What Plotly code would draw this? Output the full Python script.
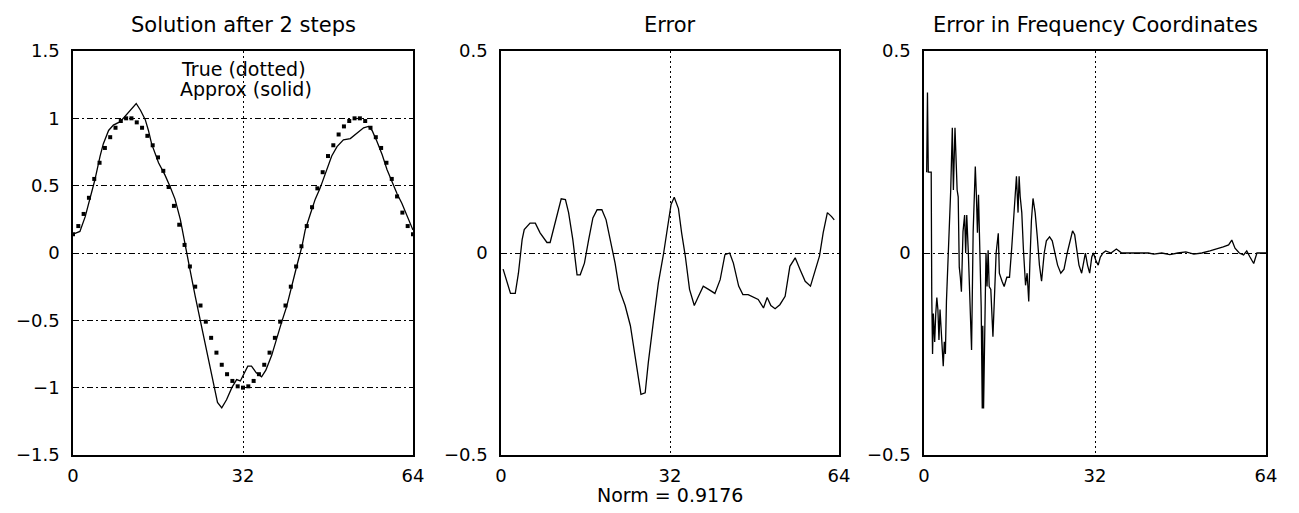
import plotly.graph_objects as go

# ---------------- data ----------------
true_x = list(range(65))
true_y = [0.14, 0.20, 0.29, 0.41, 0.55, 0.67, 0.78, 0.86, 0.93, 0.98,
          1.00, 1.00, 0.97, 0.93, 0.87, 0.80, 0.71, 0.61, 0.49, 0.35,
          0.21, 0.06, -0.10, -0.25, -0.39, -0.51, -0.63, -0.74, -0.83, -0.90,
          -0.95, -0.99, -1.00, -0.99, -0.95, -0.90, -0.83, -0.74, -0.63, -0.51,
          -0.39, -0.25, -0.10, 0.05, 0.20, 0.34, 0.48, 0.60, 0.72, 0.80,
          0.88, 0.94, 0.98, 1.00, 1.00, 0.98, 0.93, 0.86, 0.78, 0.67,
          0.55, 0.42, 0.30, 0.20, 0.14]

approx_x = [0.0, 1.3, 2.3, 3.2, 4.1, 5.1, 5.7, 6.7, 7.6, 8.9,
            10.4, 11.9, 12.7, 13.6, 14.2, 14.8, 16.1, 17.3, 18.3, 19.2,
            20.2, 21.1, 22.0, 23.0, 23.9, 24.9, 25.8, 26.6, 27.2, 28.0,
            28.9, 29.9, 30.8, 31.5, 32.3, 32.9, 33.6, 34.5, 35.5, 36.3,
            37.4, 38.4, 39.3, 40.2, 41.2, 42.1, 43.1, 43.7, 44.6, 45.6,
            46.5, 47.8, 48.7, 49.7, 50.9, 52.2, 53.4, 54.7, 55.6, 56.3,
            57.2, 58.2, 59.1, 60.0, 61.0, 61.9, 62.9, 64.0]
approx_y = [0.14, 0.16, 0.27, 0.40, 0.54, 0.72, 0.81, 0.91, 0.95, 0.975,
            1.04, 1.11, 1.06, 0.99, 0.91, 0.81, 0.67, 0.58, 0.49, 0.40,
            0.25, 0.05, -0.12, -0.32, -0.49, -0.67, -0.84, -1.01, -1.11, -1.15,
            -1.09, -1.00, -0.94, -0.95, -0.88, -0.84, -0.84, -0.89, -0.92, -0.87,
            -0.76, -0.62, -0.51, -0.40, -0.23, -0.10, 0.05, 0.17, 0.28, 0.40,
            0.48, 0.62, 0.72, 0.79, 0.84, 0.85, 0.89, 0.93, 0.94, 0.91,
            0.83, 0.73, 0.62, 0.53, 0.44, 0.37, 0.27, 0.17]

err_x = [0.4, 1.8, 2.7, 3.3, 4.0, 4.4, 5.5, 6.5, 7.4, 8.7,
         9.3, 10.6, 11.4, 12.2, 12.8, 13.6, 14.4, 15.0, 15.8, 16.6,
         17.4, 18.2, 19.1, 19.9, 20.7, 21.6, 22.4, 23.5, 24.5, 25.2,
         25.9, 26.5, 27.3, 27.9, 28.9, 29.8, 30.8, 31.5, 32.2, 32.8,
         33.6, 34.2, 34.9, 35.7, 36.6, 37.4, 38.3, 39.3, 40.5, 41.5,
         42.4, 43.3, 44.0, 45.0, 45.8, 46.8, 47.8, 48.7, 49.7, 50.4,
         51.1, 51.9, 52.8, 53.8, 54.7, 55.7, 56.6, 57.6, 58.6, 59.5,
         60.3, 61.0, 61.8, 62.6, 63.1]
err_y = [-0.04, -0.10, -0.10, -0.05, 0.033, 0.058, 0.074, 0.074, 0.05, 0.026,
         0.026, 0.09, 0.134, 0.132, 0.10, 0.033, -0.054, -0.054, -0.025, 0.033,
         0.087, 0.107, 0.107, 0.082, 0.033, -0.025, -0.09, -0.13, -0.18, -0.24,
         -0.30, -0.35, -0.346, -0.27, -0.165, -0.074, 0.0, 0.066, 0.12, 0.138,
         0.11, 0.05, -0.008, -0.09, -0.13, -0.107, -0.082, -0.09, -0.10, -0.066,
         -0.004, 0.0, -0.025, -0.082, -0.103, -0.103, -0.11, -0.115, -0.136, -0.11,
         -0.13, -0.138, -0.128, -0.107, -0.033, -0.012, -0.04, -0.07, -0.082, -0.04,
         -0.008, 0.05, 0.10, 0.09, 0.082]

freq_x = [0.5, 0.65, 0.8, 1.35, 1.45, 1.6, 1.75, 2.0, 2.2, 2.4,
          2.6, 2.8, 3.0, 3.4, 3.6, 3.8, 4.0, 4.2, 4.6, 5.0,
          5.3, 5.5, 5.8, 6.2, 6.4, 6.6, 6.8, 7.0, 7.3, 7.6,
          7.8, 8.0, 8.3, 8.6, 8.9, 9.2, 9.6, 9.8, 10.0, 10.2,
          10.4, 10.7, 10.9, 11.0, 11.15, 11.4, 11.6, 11.8, 12.0, 12.2,
          12.5, 12.9, 13.2, 13.5, 13.9, 14.1, 14.6, 15.0, 15.5, 16.0,
          16.4, 16.9, 17.3, 17.6, 17.8, 18.0, 18.3, 18.6, 19.0, 19.3,
          19.6, 19.8, 20.1, 20.4, 20.8, 21.2, 21.6, 22.0, 22.5, 22.9,
          23.5, 24.0, 24.5, 25.0, 25.6, 26.2, 26.8, 27.4, 27.8, 28.2,
          28.6, 29.0, 29.5, 29.8, 30.2, 30.6, 31.0, 31.4, 31.7, 32.2,
          32.6, 33.0, 33.5, 34.0, 35.0, 36.0, 37.0, 42.0, 43.0, 44.5,
          46.0, 47.5, 49.0, 50.5, 52.0, 53.5, 55.0, 56.0, 57.0, 57.6,
          58.2, 59.0, 59.8, 60.4, 61.0, 61.7, 62.3, 63.0, 64.0]
freq_y = [0.20, 0.397, 0.20, 0.20, -0.104, -0.25, -0.15, -0.22, -0.15, -0.11,
          -0.14, -0.215, -0.14, -0.22, -0.28, -0.22, -0.25, -0.12, 0.0, 0.156,
          0.31, 0.156, 0.31, 0.156, 0.139, -0.035, -0.06, -0.096, 0.053, 0.094,
          0.0, 0.094, 0.0, -0.15, -0.24, 0.053, 0.214, 0.144, 0.05, 0.144,
          0.05, -0.133, -0.385, -0.18, -0.385, -0.18, 0.0, -0.083, 0.007, -0.083,
          -0.09, -0.207, -0.08, 0.0, 0.049, -0.05, -0.07, -0.083, -0.06, -0.06,
          0.01, 0.10, 0.19, 0.10, 0.19, 0.14, 0.10, 0.01, -0.08, -0.05,
          -0.12, -0.03, 0.08, 0.135, 0.10, 0.04, -0.03, -0.07, 0.0, 0.03,
          0.04, 0.03, 0.0, -0.03, -0.05, -0.04, 0.0, 0.03, 0.055, 0.045,
          0.0, -0.03, -0.05, -0.03, 0.0, -0.03, -0.05, -0.01, 0.0, -0.02,
          -0.03, -0.01, 0.0, 0.005, 0.0, 0.01, 0.0, 0.0, -0.003, 0.0,
          -0.004, 0.0, 0.003, -0.003, 0.0, 0.005, 0.01, 0.015, 0.02, 0.032,
          0.012, 0.0, -0.005, 0.005, -0.01, -0.026, 0.0, 0.0, 0.0]

x_tick_vals = [0, 32, 64]
x_tick_text = ["0", "32", "64"]
y1_tick_vals = [-1.5, -1, -0.5, 0, 0.5, 1, 1.5]
y1_tick_text = ["\u22121.5", "\u22121", "\u22120.5", "0", "0.5", "1", "1.5"]
y23_tick_vals = [-0.5, 0, 0.5]
y23_tick_text = ["\u22120.5", "0", "0.5"]

titles = ["Solution after 2 steps", "Error", "Error in Frequency Coordinates"]
label_lines = ["True (dotted)", "Approx (solid)"]
norm_text = "Norm = 0.9176"

# ---------------- figure ----------------
W, H = 1299, 513
FONT = "DejaVu Sans"
BLACK = "#000000"

fig = go.Figure()
fig.add_trace(go.Scatter(x=true_x, y=true_y, mode="markers",
                         marker=dict(symbol="square", size=4, color=BLACK, line=dict(width=0)),
                         xaxis="x", yaxis="y"))
fig.add_trace(go.Scatter(x=approx_x, y=approx_y, mode="lines",
                         line=dict(color=BLACK, width=1.3), xaxis="x", yaxis="y"))
fig.add_trace(go.Scatter(x=err_x, y=err_y, mode="lines",
                         line=dict(color=BLACK, width=1.3), xaxis="x2", yaxis="y2"))
fig.add_trace(go.Scatter(x=freq_x, y=freq_y, mode="lines",
                         line=dict(color=BLACK, width=1.3), xaxis="x3", yaxis="y3"))

x_domains = [[73 / W, 413 / W], [501 / W, 839 / W], [924 / W, 1266 / W]]
y_domain = [1 - 455 / H, 1 - 51 / H]


def xaxis(dom, anchor):
    return dict(domain=dom, anchor=anchor, range=[0, 64], tickmode="array",
                tickvals=x_tick_vals, ticktext=x_tick_text, showgrid=True,
                gridcolor=BLACK, gridwidth=1, griddash="2px,3px", zeroline=False,
                showline=True, linecolor=BLACK, linewidth=1.5, mirror=True,
                ticks="", ticklabelstandoff=4, automargin=False,
                tickfont=dict(family=FONT, size=18, color=BLACK), fixedrange=True)


def yaxis(anchor, vals, text, rng):
    return dict(domain=y_domain, anchor=anchor, range=rng, tickmode="array",
                tickvals=vals, ticktext=text, showgrid=True, gridcolor=BLACK,
                gridwidth=1, griddash="6px,3px,2px,3px", zeroline=False,
                showline=True, linecolor=BLACK, linewidth=1.5, mirror=True,
                ticks="", ticklabelstandoff=8, automargin=False,
                tickfont=dict(family=FONT, size=18, color=BLACK), fixedrange=True)


annotations = []
for i, t in enumerate(titles):
    sfx = "" if i == 0 else str(i + 1)
    annotations.append(dict(text=t, xref="x%s domain" % sfx, yref="y%s domain" % sfx,
                            x=0.5, y=1, yanchor="middle", xanchor="center", yshift=26,
                            showarrow=False, font=dict(family=FONT, size=21, color=BLACK)))
annotations.append(dict(text=label_lines[0], xref="x", yref="y", x=32, y=1.366,
                        showarrow=False, font=dict(family=FONT, size=19, color=BLACK)))
annotations.append(dict(text=label_lines[1], xref="x", yref="y", x=32.6, y=1.217,
                        showarrow=False, font=dict(family=FONT, size=19, color=BLACK)))
annotations.append(dict(text=norm_text, xref="x2 domain", yref="y2 domain", x=0.5, y=0,
                        yanchor="middle", yshift=-40, showarrow=False,
                        font=dict(family=FONT, size=19, color=BLACK)))

fig.update_layout(
    template="none",
    width=W, height=H, autosize=False,
    margin=dict(l=0, r=0, t=0, b=0, pad=0),
    paper_bgcolor="white", plot_bgcolor="white", showlegend=False,
    font=dict(family=FONT, color=BLACK),
    xaxis=xaxis(x_domains[0], "y"),
    xaxis2=xaxis(x_domains[1], "y2"),
    xaxis3=xaxis(x_domains[2], "y3"),
    yaxis=yaxis("x", y1_tick_vals, y1_tick_text, [-1.5, 1.5]),
    yaxis2=yaxis("x2", y23_tick_vals, y23_tick_text, [-0.5, 0.5]),
    yaxis3=yaxis("x3", y23_tick_vals, y23_tick_text, [-0.5, 0.5]),
    annotations=annotations,
)

fig.write_html("out.html", config={"displayModeBar": False},
               post_script="document.body.style.margin='0';document.body.style.overflow='hidden';")
